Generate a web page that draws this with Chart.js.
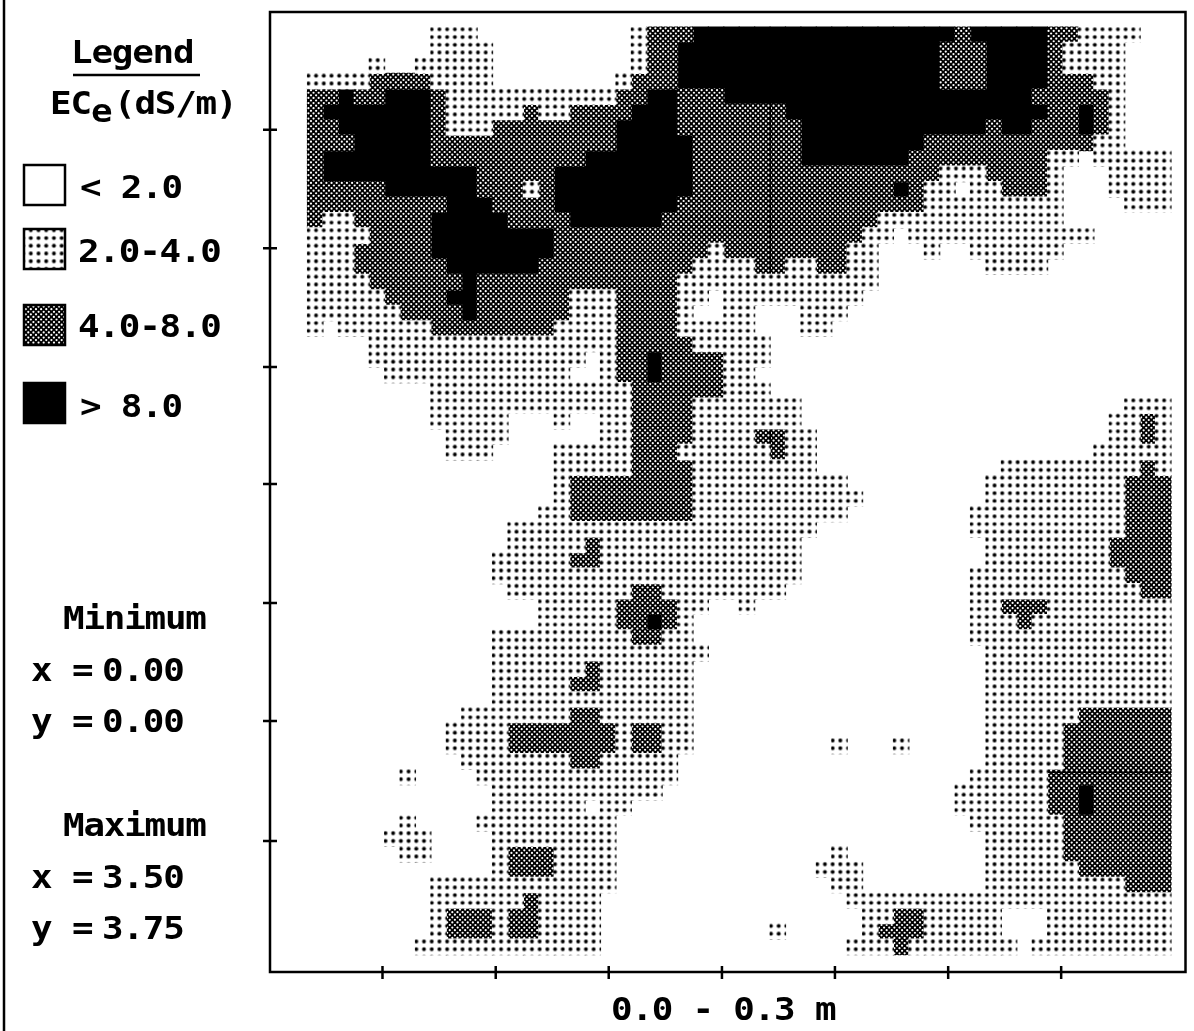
<!DOCTYPE html>
<html>
<head>
<meta charset="utf-8">
<title>ECe map 0.0 - 0.3 m</title>
<script src="https://cdn.jsdelivr.net/npm/chart.js@4"></script>
<style>
  html, body { margin: 0; padding: 0; background: #fff; }
  canvas { display: block; }
</style>
</head>
<body>
<canvas id="chart" width="1194" height="1031"></canvas>
<script>
// one entry per grid row, north to south. columns not listed are < 2.0
// o = 2.0-4.0, x = 4.0-8.0, # = > 8.0
const ecRows = [
  "o8-10 o21 x22-24 #25-41 x42 #43-47 x48-49 o50-53",
  "o8-11 o21 x22-23 #24-40 x41-43 #44-47 x48 o49-52",
  "o4 o7-11 o21 x22-23 #24-40 x41-43 #44-47 x48 o49-52",
  "o0-3 x4-7 o8-11 o20 x21-23 #24-40 x41-43 #44-47 x48-50 o51-52",
  "x0-1 #2 x3-4 #5-7 x8 o9-19 x20-21 #22-23 x24-26 #27-46 x47-51 o52",
  "x0 #1-7 x8 o9-13 x14 o15-16 x17-20 #21-23 x24-30 #31-47 x48-49 #50 x51 o52",
  "x0-1 #2-7 x8 o9-11 x12-19 #20-23 x24-31 #32-43 x44 #45-46 x47-49 #50 x51 o52",
  "x0-2 #3-7 x8-19 #20-24 x25-31 #32-39 x40-50 o51-52",
  "x0 #1-7 x8-17 #18-24 x25-31 #32-38 x39-47 o48-49 o51-55",
  "x0 #1-10 x11-15 #16-24 x25-40 o41-43 x44-47 o48 o52-55",
  "x0-4 #5-10 x11-13 o14 x15 #16-24 x25-37 #38 x39 o40-41 o43-44 x45-47 o48 o52-55",
  "x0-8 #9-11 x12-15 #16-23 x24-39 o40-48 o53-55",
  "x0 o1-2 x3-7 #8-12 x13-16 #17-22 x23-36 o37-48",
  "o0-3 x4-7 #8-15 x16-35 o36-37 o39-50",
  "o0-2 x3-7 #8-15 x16-25 o26 x27-34 o35-36 o40 o43-48",
  "o0-2 x3-8 #9-14 x15-24 o25-28 x29-30 o31-32 x33-34 o35-36 o44-47",
  "o0-3 x4-9 #10 x11-23 o24-36",
  "o0-4 x5-8 #9-10 x11-16 o17-19 x20-23 o24-25 o27-35",
  "o0-5 x6-9 #10 x11-16 o17-19 x20-23 o24 o27-28 o32-34",
  "o0 o2-7 x8-15 o16-19 x20-23 o24-28 o32-33",
  "o4-19 x20-24 o25-29",
  "o4-17 o19 x20-21 #22 x23-26 o27-29",
  "o5-16 o19 x20-21 #22 x23-26 o27-28",
  "o8-20 x21-26 o27-29",
  "o8-20 x21-24 o25-31 o53-55",
  "o8-12 o16 o19-20 x21-24 o25-31 o52-53 x54 o55",
  "o9-12 o19-20 x21-24 o25-28 x29-30 o31-32 o52-53 x54 o55",
  "o9-11 o16-20 x21-23 o24-29 x30 o31-32 o51-55",
  "o16-20 x21-24 o25-32 o45-53 x54 o55",
  "o16 x17-24 o25-34 o44-52 x53-55",
  "o16 x17-24 o25-35 o44-52 x53-55",
  "o15-16 x17-24 o25-34 o43-52 x53-55",
  "o13-32 o43-52 x53-55",
  "o13-17 x18 o19-31 o44-51 x52-55",
  "o12-16 x17-18 o19-31 o44-51 x52-55",
  "o12-31 o43-52 x53-55",
  "o13-20 x21-22 o23-30 o43-53 x54-55",
  "o15-19 x20-23 o24-25 o28 o43-44 x45-47 o48-55",
  "o15-19 x20-21 #22 x23 o24 o43-45 x46 o47-55",
  "o12-20 x21-22 o23-24 o43-55",
  "o12-25 o44-55",
  "o12-17 x18 o19-24 o44-55",
  "o12-16 x17-18 o19-24 o44-55",
  "o12-24 o44-55",
  "o10-16 x17-18 o19-24 o44-49 x50-55",
  "o9-12 x13-19 o20 x21-22 o23-24 o44-48 x49-55",
  "o9-12 x13-19 o20 x21-22 o23-24 o34 o38 o44-48 x49-55",
  "o10-16 x17-18 o19-23 o44-48 x49-55",
  "o6 o11-23 o43-47 x48-55",
  "o12-22 o42-47 x48-49 #50 x51-55",
  "o12-17 o19-20 o42-47 x48-49 #50 x51-55",
  "o6 o11-19 o43-48 x49-55",
  "o5-7 o12-19 o44-48 x49-55",
  "o6-7 o12 x13-15 o16-19 o34 o44-48 x49-55",
  "o12 x13-15 o16-19 o33-35 o44-49 x50-55",
  "o8-19 o34-35 o44-52 x53-55",
  "o8-13 x14 o15-18 o35-55",
  "o8 x9-11 o12 x13-14 o15-18 o36-37 x38-39 o40-44 o48-55",
  "o8 x9-11 o12 x13-14 o15-18 o30 o36 x37-39 o40-44 o48-55",
  "o7-18 o35-37 x38 o39-45 o47-55"
];

const legendLabels = ["< 2.0", "2.0-4.0", "4.0-8.0", "> 8.0"];
const rangeLabels = ["Minimum", "Maximum"];
const minValues = ["0.00", "0.00"];
const maxValues = ["3.50", "3.75"];
const depthLabel = "0.0 - 0.3 m";

// metres
const cellSize = 0.0625;
const mapHeight = 3.75;
const xTickValues = [0.304, 0.763, 1.221, 1.68, 2.138, 2.597, 3.055];
const yTickValues = [3.335, 2.856, 2.375, 1.902, 1.421, 0.944, 0.459];

const cellsByClass = { "o": [], "x": [], "#": [] };
ecRows.forEach((row, r) => {
  row.split(" ").forEach(run => {
    const cls = run[0];
    const [from, to] = run.slice(1).split("-").map(Number);
    for (let c = from; c <= (to === undefined ? from : to); c++) {
      cellsByClass[cls].push({
        x: (c + 0.5) * cellSize,
        y: [mapHeight - (r + 1) * cellSize, mapHeight - r * cellSize]
      });
    }
  });
});

// tiles are 1:1 so the dot spacing stays fractional like the scan
function makeTile(draw) {
  const tile = document.createElement("canvas");
  tile.width = 771;
  tile.height = 773;
  draw(tile.getContext("2d"));
  return tile;
}

const ctx = document.getElementById("chart").getContext("2d");

const dotTile = makeTile(t => {
  t.fillStyle = "#fff";
  t.fillRect(0, 0, 771, 773);
  t.fillStyle = "#000";
  for (let i = 0; i < 100; i++) {
    for (let j = 0; j < 100; j++) {
      t.beginPath();
      t.arc((i + 0.5) * 7.71, (j + 0.5) * 7.73, 1.95, 0, Math.PI * 2);
      t.fill();
    }
  }
});
const dotPattern = ctx.createPattern(dotTile, "repeat");
dotPattern.setTransform(new DOMMatrix().translate(308.3 - 3.855, 29.3 - 3.865));

const ditherTile = makeTile(t => {
  t.fillStyle = "#000";
  t.fillRect(0, 0, 771, 773);
  t.fillStyle = "#fff";
  const stepX = 771 / 150, stepY = 773 / 300;
  for (let j = 0; j < 300; j++) {
    for (let i = 0; i < 150; i++) {
      t.beginPath();
      t.arc((i + (j % 2 ? 0.5 : 0)) * stepX, j * stepY, 1.1, 0, Math.PI * 2);
      t.fill();
    }
  }
});
const ditherPattern = ctx.createPattern(ditherTile, "repeat");

// the original is a wide terminal face, 20.4px a character
function drawText(c, text, x, baseline) {
  c.save();
  c.translate(x - 2, baseline);
  c.scale(1.12, 1);
  c.fillText(text, 0, 0);
  c.restore();
}

const swatches = [
  { y: 165, fill: "#fff", baseline: 198, textX: 82 },
  { y: 229, fill: dotPattern, baseline: 262, textX: 80 },
  { y: 305, fill: ditherPattern, baseline: 337, textX: 80 },
  { y: 383, fill: "#000", baseline: 417, textX: 82 }
];

const mapFurniture = {
  id: "mapFurniture",
  afterDraw(chart) {
    const c = chart.ctx;
    const { left, right, top, bottom } = chart.chartArea;
    const xs = chart.scales.x, ys = chart.scales.y;
    c.save();
    c.strokeStyle = "#000";
    c.fillStyle = "#000";

    // page edge and map frame
    c.lineWidth = 2.5;
    c.beginPath();
    c.moveTo(4, 0);
    c.lineTo(4, 1031);
    c.stroke();
    c.strokeRect(left, top, right - left, bottom - top);

    // ticks cross the frame
    c.beginPath();
    xTickValues.forEach(v => {
      const px = xs.getPixelForValue(v);
      c.moveTo(px, bottom - 6);
      c.lineTo(px, bottom + 7);
    });
    yTickValues.forEach(v => {
      const py = ys.getPixelForValue(v);
      c.moveTo(left - 7, py);
      c.lineTo(left + 7, py);
    });
    c.stroke();

    c.font = 'bold 32px "DejaVu Sans Mono"';
    c.letterSpacing = "-1.06px";
    c.textBaseline = "alphabetic";

    // legend
    drawText(c, "Legend", 73, 63);
    c.beginPath();
    c.moveTo(73, 75);
    c.lineTo(200, 75);
    c.stroke();
    drawText(c, "EC", 52, 114);
    drawText(c, "e", 93, 122);
    drawText(c, "(dS/m)", 116, 114);

    swatches.forEach((s, i) => {
      c.fillStyle = s.fill;
      c.fillRect(24, s.y, 41, 40);
      c.strokeRect(24, s.y, 41, 40);
      c.fillStyle = "#000";
      drawText(c, legendLabels[i], s.textX, s.baseline);
    });

    // extents
    drawText(c, rangeLabels[0], 65, 629);
    drawText(c, "x", 33, 681);
    drawText(c, "=", 74, 681);
    drawText(c, minValues[0], 104, 681);
    drawText(c, "y", 33, 732);
    drawText(c, "=", 74, 732);
    drawText(c, minValues[1], 104, 732);
    drawText(c, rangeLabels[1], 65, 836);
    drawText(c, "x", 33, 888);
    drawText(c, "=", 74, 888);
    drawText(c, maxValues[0], 104, 888);
    drawText(c, "y", 33, 939);
    drawText(c, "=", 74, 939);
    drawText(c, maxValues[1], 104, 939);

    drawText(c, depthLabel, 613, 1020);
    c.restore();
  }
};

function hiddenAxis(min, max, tickValues) {
  return {
    type: "linear",
    offset: false,
    min: min,
    max: max,
    grid: { display: false, drawTicks: false },
    border: { display: false },
    ticks: { display: false },
    afterBuildTicks: scale => {
      scale.ticks = tickValues.map(value => ({ value }));
    },
    afterFit: scale => {
      if (scale.isHorizontal()) scale.height = 0;
      else scale.width = 0;
    }
  };
}

new Chart(ctx, {
  type: "bar",
  data: {
    datasets: [
      { label: legendLabels[1], data: cellsByClass["o"], backgroundColor: dotPattern },
      { label: legendLabels[2], data: cellsByClass["x"], backgroundColor: ditherPattern },
      { label: legendLabels[3], data: cellsByClass["#"], backgroundColor: "#000" }
    ]
  },
  options: {
    responsive: false,
    animation: false,
    events: [],
    grouped: false,
    barThickness: 15.42,
    borderWidth: 0,
    inflateAmount: 0.6,
    layout: { padding: { left: 270, top: 12, right: 8.5, bottom: 59 } },
    plugins: { legend: { display: false }, tooltip: { enabled: false } },
    scales: {
      x: hiddenAxis(-0.152, 3.559, xTickValues),
      y: hiddenAxis(-0.0703, 3.8106, yTickValues)
    }
  },
  plugins: [mapFurniture]
});
</script>
</body>
</html>
